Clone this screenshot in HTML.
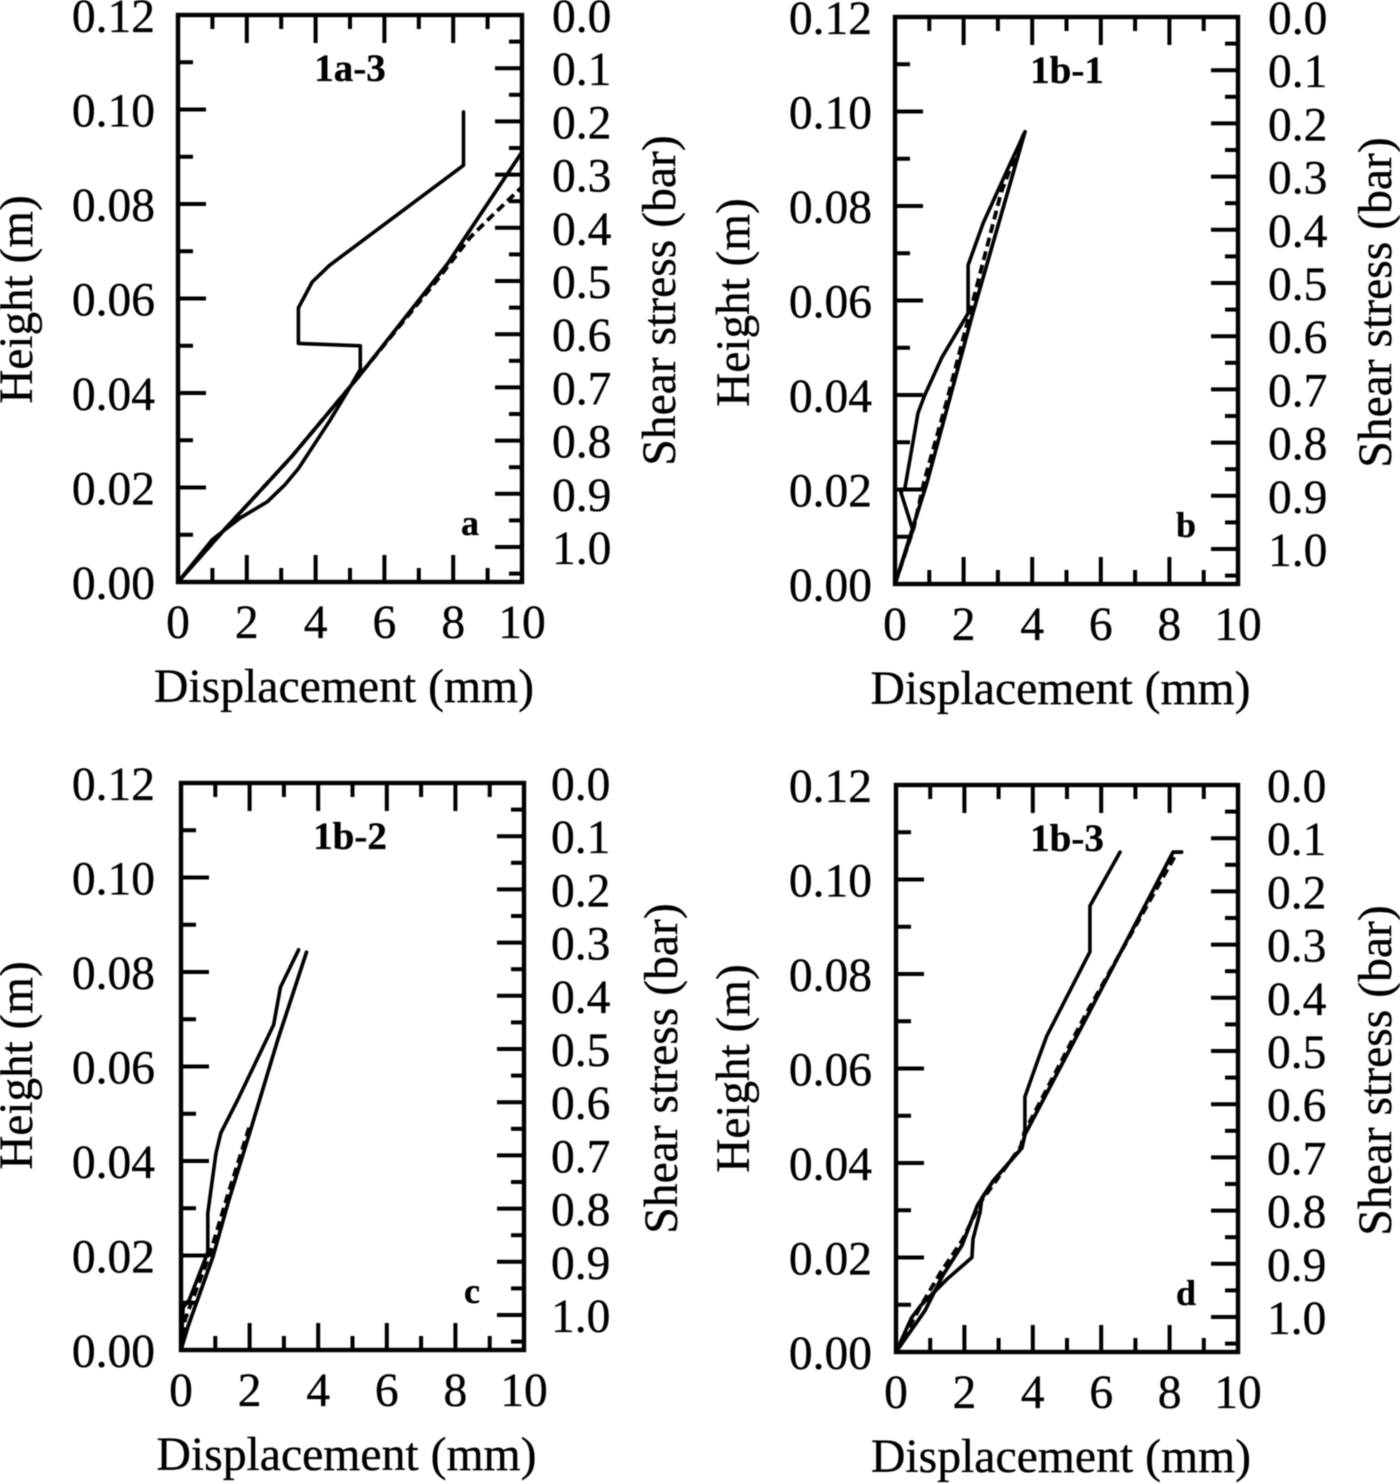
<!DOCTYPE html>
<html lang="en">
<head>
<meta charset="utf-8">
<title>Displacement and shear stress profiles</title>
<style>
html,body{margin:0;padding:0;background:#fff;width:1400px;height:1484px;overflow:hidden}
svg{display:block;filter:blur(0.55px)}
text{font-family:"Liberation Serif",serif;fill:#000;stroke:#000;stroke-width:0.35px}
</style>
</head>
<body>
<svg id="figure" xmlns="http://www.w3.org/2000/svg" width="1400" height="1484" viewBox="0 0 1400 1484"></svg>
<script>
const heightTickLabels = ['0.00','0.02','0.04','0.06','0.08','0.10','0.12'];
const heightTickValues = [0,0.02,0.04,0.06,0.08,0.10,0.12];
const heightMinorValues = [0.01,0.03,0.05,0.07,0.09,0.11];
const displacementTickLabels = ['0','2','4','6','8','10'];
const displacementTickValues = [0,2,4,6,8,10];
const displacementMinorValues = [1,3,5,7,9];
const stressTickLabels = ['0.0','0.1','0.2','0.3','0.4','0.5','0.6','0.7','0.8','0.9','1.0'];
const stressTickValues = [0,0.1,0.2,0.3,0.4,0.5,0.6,0.7,0.8,0.9,1.0];
const stressMinorValues = [0.05,0.15,0.25,0.35,0.45,0.55,0.65,0.75,0.85,0.95,1.05];

const aLoopX = [0,1,1.8,2.6,3.1,3.5,4.4,4.9,5.3,5.3,3.5,3.5,3.9,4.4,8.3,8.3];
const aLoopY = [0,0.009,0.0135,0.017,0.0205,0.024,0.034,0.04,0.045,0.05,0.0505,0.058,0.0635,0.067,0.0882,0.0995];
const aLineX = [0,1.34,3.3,5,5.2,7.85,10];
const aLineY = [0,0.011,0.0265,0.0413,0.043,0.0675,0.091];
const aDashX = [0,1.34,3.3,5,7.6,8.5,9.2,10];
const aDashY = [0,0.011,0.0265,0.0413,0.0645,0.073,0.078,0.0836];

const bLoopX = [0,0.52,0.17,0.29,0.5,0.67,0.87,1.37,2.13,2.13,2.57,3.27,3.79];
const bLoopY = [0,0.0114,0.0195,0.0203,0.029,0.0362,0.04,0.048,0.0573,0.0675,0.0764,0.0876,0.0957];
const bLineX = [0,0.93,2.24,3.79];
const bLineY = [0,0.0214,0.0565,0.0957];
const bDashX = [0,0.55,0.85,1.5,2.17,3.1,3.75];
const bDashY = [0,0.012,0.0218,0.0385,0.057,0.083,0.0952];

const cLoopX = [0,0.06,0.24,0.78,0.78,1.02,1.16,1.65,2.7,2.9,3.43];
const cLoopY = [0,0.009,0.0106,0.0207,0.029,0.0417,0.0459,0.0529,0.0688,0.0768,0.0847];
const cLineX = [0,0.2,0.93,1.37,2.03,2.82,3.66];
const cLineY = [0,0.0049,0.0197,0.0311,0.0466,0.0656,0.0842];
const cDashX = [0,0.12,0.85,1.32,1.99];
const cDashY = [0,0.0065,0.0205,0.0318,0.0472];

const dLoopX = [0,0.45,0.72,1.49,2.22,2.25,2.46,2.51,2.84,3.68,3.77,3.77,4.12,4.41,5.67,5.67,6.55];
const dLoopY = [0,0.0072,0.0098,0.0154,0.02,0.0239,0.0296,0.0326,0.0362,0.0432,0.0461,0.054,0.0612,0.0669,0.0847,0.0944,0.1058];
const dLineX = [0,0.85,1.35,1.93,2.38,2.84,3.68,3.77,5.58,8.1,8.35];
const dLineY = [0,0.0088,0.016,0.0226,0.031,0.0362,0.0432,0.046,0.0709,0.1058,0.1058];
const dDashX = [0,0.68,1.3,1.95,2.5,3.65,3.75,5.55,8.2];
const dDashY = [0,0.0092,0.0168,0.0238,0.032,0.0435,0.0465,0.0715,0.1055];

const panelTitles = ['1a-3','1b-1','1b-2','1b-3'];
const panelLetters = ['a','b','c','d'];

const SVGNS = 'http://www.w3.org/2000/svg';
const figure = document.getElementById('figure');
const FONT = 47.5;
const X_MAX = 10, Y_MAX = 0.12, STRESS_SPAN_PER_UNIT = 532;

function makeEl(tag, parent, name, attrs) {
  const el = document.createElementNS(SVGNS, tag);
  
  
  for (const k in attrs) { el.setAttribute(k, attrs[k]); }
  parent.appendChild(el);
  return el;
}
function addText(parent, name, str, x, y, size, anchor, weight, rot) {
  const attrs = {x: x, y: y, 'font-size': size, 'text-anchor': anchor};
  if (weight) { attrs['font-weight'] = weight; }
  if (rot) { attrs.transform = 'rotate(' + rot + ' ' + x + ' ' + y + ')'; }
  const t = makeEl('text', parent, name, attrs);
  t.textContent = str;
  return t;
}
function addTick(parent, name, x1, y1, x2, y2) {
  makeEl('line', parent, name, {x1: x1, y1: y1, x2: x2, y2: y2, stroke: '#000', 'stroke-width': 4});
}
function addCurve(parent, name, xs, ys, sx, sy, width, dash) {
  const pts = xs.map((v, i) => sx(v).toFixed(1) + ',' + sy(ys[i]).toFixed(1)).join(' ');
  const attrs = {points: pts, fill: 'none', stroke: '#000', 'stroke-width': width, 'stroke-linejoin': 'round', 'stroke-linecap': 'round'};
  if (dash) { attrs['stroke-dasharray'] = dash; attrs['stroke-linecap'] = 'butt'; }
  makeEl('polyline', parent, name, attrs);
}
function drawPanel(p) {
  const g = makeEl('g', figure, 'panel-' + p.letter, {});
  const sx = v => p.left + (v / X_MAX) * (p.right - p.left);
  const sy = v => p.bottom - (v / Y_MAX) * (p.bottom - p.top);
  const sStress = v => p.top + v * STRESS_SPAN_PER_UNIT;

  heightTickValues.forEach((v, i) => {
    addTick(g, 'left-major-tick', p.left, sy(v), p.left + 28, sy(v));
    addText(g, 'height-tick-label', heightTickLabels[i], p.left - 23 - p.labelShift, sy(v) + 17, FONT, 'end');
  });
  heightMinorValues.forEach(v => addTick(g, 'left-minor-tick', p.left, sy(v), p.left + 15, sy(v)));

  displacementTickValues.forEach((v, i) => {
    addTick(g, 'bottom-major-tick', sx(v), p.bottom, sx(v), p.bottom - 27);
    addTick(g, 'top-major-tick', sx(v), p.top, sx(v), p.top + 28);
    addText(g, 'displacement-tick-label', displacementTickLabels[i], sx(v), p.bottom + 56, FONT, 'middle');
  });
  displacementMinorValues.forEach(v => {
    addTick(g, 'bottom-minor-tick', sx(v), p.bottom, sx(v), p.bottom - 14);
    addTick(g, 'top-minor-tick', sx(v), p.top, sx(v), p.top + 14);
  });

  stressTickValues.forEach((v, i) => {
    addTick(g, 'right-major-tick', p.right, sStress(v), p.right - 27, sStress(v));
    addText(g, 'stress-tick-label', stressTickLabels[i], p.right + 30 - p.labelShift, sStress(v) + 17, FONT, 'start');
  });
  stressMinorValues.forEach(v => addTick(g, 'right-minor-tick', p.right, sStress(v), p.right - 13, sStress(v)));

  makeEl('rect', g, 'plot-frame', {x: p.left, y: p.top, width: p.right - p.left, height: p.bottom - p.top, fill: 'none', stroke: '#000', 'stroke-width': 4.4});

  addCurve(g, 'dashed-series', p.dashX, p.dashY, sx, sy, 3.8, '9 5');
  addCurve(g, 'straight-series', p.lineX, p.lineY, sx, sy, 3.7);
  addCurve(g, 'loop-series', p.loopX, p.loopY, sx, sy, 3.6);

  addText(g, 'panel-title', p.title, p.left + 172 - p.labelShift, p.top + 66, 39, 'middle', 'bold');
  addText(g, 'panel-letter', p.letter, p.right - 52, p.bottom - 47, 36, 'middle', 'bold');

  const cx = (p.left + p.right) / 2;
  const cy = (p.top + p.bottom) / 2;
  addText(g, 'x-axis-title', 'Displacement (mm)', cx - 6, p.bottom + 120, 47.7, 'middle');
  addText(g, 'y-axis-title', 'Height (m)', p.left - 146 - p.labelShift, cy + p.titleLift, 47.2, 'middle', null, -90);
  addText(g, 'right-axis-title', 'Shear stress (bar)', p.right + 153, cy + 2, 47.6, 'middle', null, -90);
}

drawPanel({letter: panelLetters[0], title: panelTitles[0], left: 178, right: 522, top: 15, bottom: 582, labelShift: 0, titleLift: 1,
  loopX: aLoopX, loopY: aLoopY, lineX: aLineX, lineY: aLineY, dashX: aDashX, dashY: aDashY});
drawPanel({letter: panelLetters[1], title: panelTitles[1], left: 895, right: 1238, top: 17, bottom: 584, labelShift: 0, titleLift: 2,
  loopX: bLoopX, loopY: bLoopY, lineX: bLineX, lineY: bLineY, dashX: bDashX, dashY: bDashY});
drawPanel({letter: panelLetters[2], title: panelTitles[2], left: 181, right: 524, top: 783, bottom: 1350, labelShift: 3, titleLift: -1,
  loopX: cLoopX, loopY: cLoopY, lineX: cLineX, lineY: cLineY, dashX: cDashX, dashY: cDashY});
drawPanel({letter: panelLetters[3], title: panelTitles[3], left: 896, right: 1238, top: 785, bottom: 1352, labelShift: 1, titleLift: 0,
  loopX: dLoopX, loopY: dLoopY, lineX: dLineX, lineY: dLineY, dashX: dDashX, dashY: dDashY});
</script>
</body>
</html>
